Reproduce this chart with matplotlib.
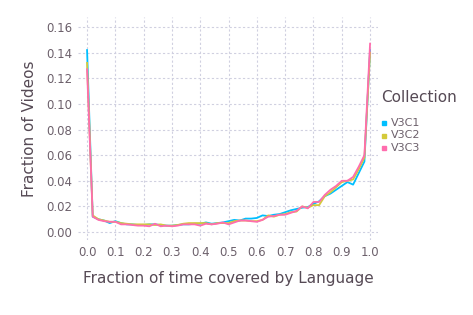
import numpy as np
import matplotlib.pyplot as plt

x = np.round(np.arange(0, 1.0001, 0.02), 2)

v3c1 = [0.142, 0.012, 0.010, 0.009, 0.007, 0.0085, 0.007, 0.006, 0.006, 0.0055,
        0.0055, 0.006, 0.006, 0.0055, 0.005, 0.005, 0.0055, 0.006, 0.006, 0.0065,
        0.0065, 0.0075, 0.0065, 0.007, 0.0075, 0.0085, 0.0095, 0.009, 0.0105, 0.0105,
        0.011, 0.013, 0.0125, 0.0135, 0.014, 0.0155, 0.017, 0.018, 0.019, 0.0195,
        0.022, 0.024, 0.028, 0.030, 0.033, 0.036, 0.039, 0.037, 0.046, 0.055,
        0.142]
v3c2 = [0.132, 0.013, 0.010, 0.009, 0.008, 0.008, 0.007, 0.0065, 0.006, 0.006,
        0.006, 0.006, 0.0055, 0.006, 0.005, 0.005, 0.0055, 0.0065, 0.007, 0.007,
        0.007, 0.007, 0.006, 0.007, 0.007, 0.007, 0.0085, 0.009, 0.009, 0.0085,
        0.0085, 0.0095, 0.013, 0.012, 0.0135, 0.014, 0.0155, 0.016, 0.020, 0.019,
        0.021, 0.021, 0.028, 0.031, 0.035, 0.039, 0.040, 0.041, 0.049, 0.058,
        0.140]
v3c3 = [0.127, 0.012, 0.0095, 0.0085, 0.008, 0.008, 0.006, 0.006, 0.0055, 0.005,
        0.005, 0.0045, 0.0065, 0.0045, 0.005, 0.0045, 0.005, 0.006, 0.006, 0.006,
        0.005, 0.0065, 0.006, 0.0065, 0.0075, 0.006, 0.0075, 0.009, 0.009, 0.0085,
        0.008, 0.0095, 0.012, 0.0125, 0.0135, 0.0135, 0.015, 0.0165, 0.020, 0.0185,
        0.0235, 0.0235, 0.029, 0.033, 0.036, 0.040, 0.040, 0.043, 0.051, 0.060,
        0.147]

names = ['V3C1', 'V3C2', 'V3C3']
colors = ['#00BFFF', '#D4CA3A', '#FF6DAE']
txt = '#6C606B'
lab = '#564A55'

W, H = 473, 315
fig = plt.figure(figsize=(W / 100, H / 100), dpi=100)
ax = fig.add_axes([78 / W, 1 - 240 / H, 300 / W, 223 / H])

for ys, c in zip([v3c1, v3c2, v3c3], colors):
    ax.plot(x, ys, color=c, lw=1.3, solid_joinstyle='round')

ax.set_xlim(-0.032, 1.028)
ax.set_ylim(-0.0062, 0.1678)
ax.set_xticks(np.arange(0, 1.01, 0.1))
ax.set_xticklabels(['%.1f' % v for v in np.arange(0, 1.01, 0.1)])
ax.set_yticks(np.arange(0, 0.161, 0.02))
ax.set_yticklabels(['%.2f' % v for v in np.arange(0, 0.161, 0.02)])
ax.grid(True, color='#D0D0E0', ls=(0, (2, 2)), lw=0.8)
ax.set_axisbelow(True)
for s in ax.spines.values():
    s.set_visible(False)
ax.tick_params(length=0, labelsize=8.5, colors=txt, pad=4)
ax.set_xlabel('Fraction of time covered by Language', fontsize=11, color=lab, labelpad=9)
ax.set_ylabel('Fraction of Videos', fontsize=11, color=lab, labelpad=7)

fig.text(381 / W, 1 - 98 / H, 'Collection', fontsize=11, color=lab, va='center')
for i, (n, c) in enumerate(zip(names, colors)):
    yy = 1 - (123 + 12.5 * i) / H
    fig.patches.append(plt.Rectangle((382 / W, yy - 2 / H), 4 / W, 4 / H,
                                     transform=fig.transFigure, color=c, figure=fig))
    fig.text(391 / W, yy, n, fontsize=8, color=txt, va='center')

fig.savefig('out.png', dpi=100, facecolor='white')
